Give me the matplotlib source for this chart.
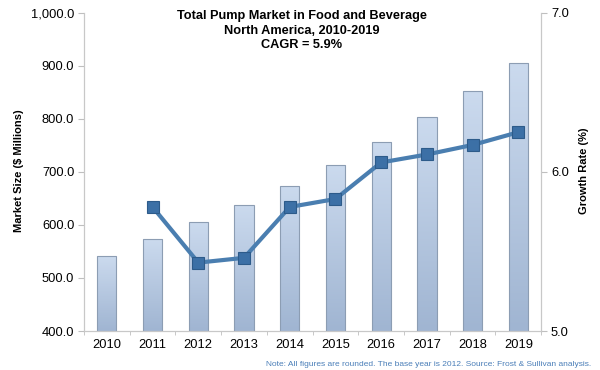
import matplotlib
matplotlib.use("Agg")
import matplotlib.pyplot as plt
from matplotlib.colors import LinearSegmentedColormap
from matplotlib.ticker import FuncFormatter, FixedLocator
import numpy as np

years = ["2010", "2011", "2012", "2013", "2014", "2015", "2016", "2017", "2018", "2019"]
market_size = [541, 573, 605, 638, 674, 713, 756, 803, 853, 906]
growth_years = ["2011", "2012", "2013", "2014", "2015", "2016", "2017", "2018", "2019"]
growth_rate = [5.78, 5.43, 5.46, 5.78, 5.83, 6.06, 6.11, 6.17, 6.25]

title = "Total Pump Market in Food and Beverage\nNorth America, 2010-2019\nCAGR = 5.9%"
note = "Note: All figures are rounded. The base year is 2012. Source: Frost & Sullivan analysis."

plt.rcParams["font.family"] = ["Liberation Sans", "DejaVu Sans"]

fig = plt.figure(figsize=(6, 3.7), dpi=100)
ax = fig.add_axes([0.14, 0.1054, 0.762, 0.8596])

x = np.arange(len(years))
bars = ax.bar(x, market_size, width=0.42, bottom=0, color="none",
              edgecolor="#8c9db3", linewidth=0.8, zorder=3)

cmap = LinearSegmentedColormap.from_list("barfill", ["#a0b5d2", "#cbdaee"])
grad = np.linspace(0, 1, 100).reshape(-1, 1)
for bar in bars:
    x0 = bar.get_x()
    x1 = x0 + bar.get_width()
    top = bar.get_height()
    im = ax.imshow(grad, extent=[x0, x1, 400, top], origin="lower",
                   aspect="auto", cmap=cmap, zorder=2)
    im.set_clip_path(bar)
ax.set_ylim(400, 1000)
ax.set_xlim(-0.5, len(years) - 0.5)

ax.set_yticks(np.arange(400, 1001, 100))
ax.yaxis.set_major_formatter(FuncFormatter(lambda v, p: f"{v:,.1f}"))
ax.set_xticks(x)
ax.set_xticklabels(years)
ax.xaxis.set_minor_locator(FixedLocator(np.arange(-0.5, len(years), 1.0)))
ax.tick_params(axis="x", which="major", length=0, labelsize=9.3, pad=6)
ax.tick_params(axis="x", which="minor", length=3, color="#bfbfbf", direction="out")
ax.tick_params(axis="y", length=4, color="#bfbfbf", labelsize=9.3, pad=3)

ax.spines["top"].set_visible(False)
for side in ["left", "right", "bottom"]:
    ax.spines[side].set_color("#c8c8c8")
    ax.spines[side].set_linewidth(0.8)

ax2 = ax.twinx()
gx = [years.index(y) for y in growth_years]
ax2.plot(gx, growth_rate, color="#4a7eb0", linewidth=3, marker="s",
         markersize=9, markerfacecolor="#3c70a6", markeredgecolor="#2d5b8a",
         markeredgewidth=0.8, zorder=5)
ax2.set_ylim(5.0, 7.0)
ax2.set_yticks([5.0, 6.0, 7.0])
ax2.yaxis.set_major_formatter(FuncFormatter(lambda v, p: f"{v:.1f}"))
ax2.tick_params(axis="y", length=4, color="#bfbfbf", labelsize=9.3, pad=3)
ax2.spines["top"].set_visible(False)
for side in ["left", "right", "bottom"]:
    ax2.spines[side].set_color("#c8c8c8")
    ax2.spines[side].set_linewidth(0.8)

fig.text(19 / 600, 1 - 171 / 370, "Market Size ($ Millions)", rotation=90, ha="center",
         va="center", fontsize=8, fontweight="bold")
fig.text(584 / 600, 1 - 171 / 370, "Growth Rate (%)", rotation=90, ha="center",
         va="center", fontsize=8, fontweight="bold")

fig.text(302 / 600, 1 - 10 / 370, title, ha="center", va="top", fontsize=9.2,
         fontweight="bold", linespacing=1.3)

fig.text(591 / 600, 1 - 364 / 370, note, ha="right", va="center",
         fontsize=6.0, color="#4a7eb8")

fig.savefig("out.png", dpi=100, facecolor="white")
